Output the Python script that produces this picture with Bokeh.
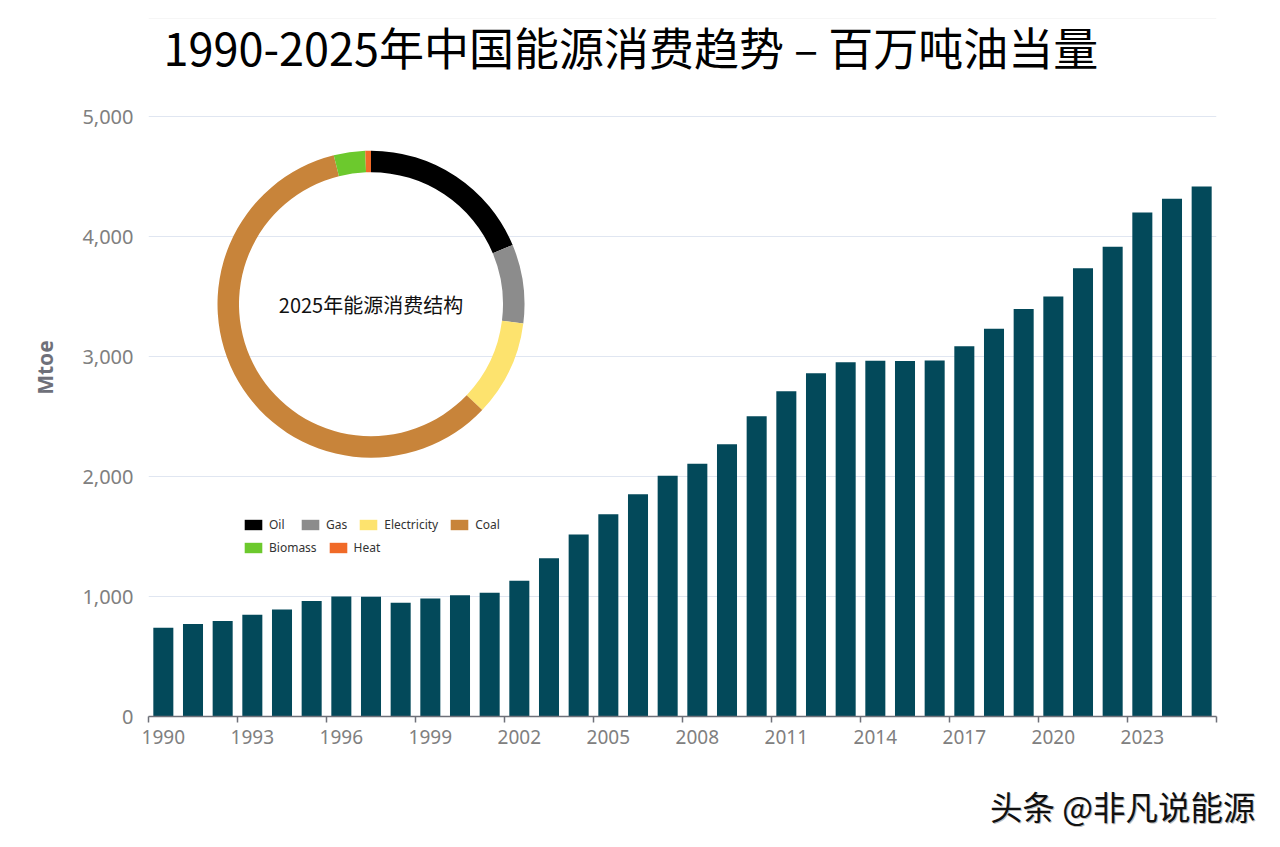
import math
from bokeh.plotting import figure
from bokeh.layouts import column
from bokeh.models import (Range1d, FixedTicker, NumeralTickFormatter, Label, Span,
                          Legend, LegendItem, ColumnDataSource)
from bokeh.embed import file_html
from bokeh.resources import INLINE

# ---------------- data ----------------
years = list(range(1990, 2026))
consumption = [740, 770, 795, 848, 892, 962, 1000, 998, 948, 983, 1011, 1031, 1132,
               1319, 1517, 1686, 1853, 2006, 2106, 2269, 2503, 2711, 2861, 2953,
               2964, 2962, 2967, 3086, 3231, 3397, 3500, 3736, 3914, 4200, 4314, 4417]
x_tick_labels = ["1990", "1993", "1996", "1999", "2002", "2005", "2008",
                 "2011", "2014", "2017", "2020", "2023"]
y_ticks = [0, 1000, 2000, 3000, 4000, 5000]

mix_labels = ["Oil", "Gas", "Electricity", "Coal", "Biomass", "Heat"]
mix_share = [18.7, 8.3, 10.1, 59.0, 3.3, 0.6]
mix_colors = ["#000000", "#8c8c8c", "#fde36e", "#c8843a", "#6cc92d", "#f06a28"]

title_text = "1990-2025年中国能源消费趋势 – 百万吨油当量"
donut_title = "2025年能源消费结构"
watermark = "头条 @非凡说能源"

BAR_COLOR = "#03495a"
AXIS_GRAY = "#6e7079"
Y_MAX = 5817

# ---------------- main figure ----------------
W, H_TOTAL = 1264, 831
ML, MR, MT, MB = 148, 48, 18, 42
H = 716 + MB
p = figure(width=W, height=H, output_backend="svg", toolbar_location=None,
           x_range=Range1d(1989.5, 2025.5), y_range=Range1d(0, Y_MAX),
           min_border_left=ML, min_border_right=MR, min_border_top=MT,
           min_border_bottom=MB)
p.frame_align = False
p.outline_line_color = None
p.background_fill_color = "white"
p.border_fill_color = "white"
p.xgrid.grid_line_color = None
p.ygrid.grid_line_color = "#e0e6f1"
p.ygrid.grid_line_width = 1

FB = H - MB  # frame bottom (canvas y)

# bars
src = ColumnDataSource(dict(year=years, value=consumption))
p.vbar(x="year", top="value", width=0.675, source=src, fill_color=BAR_COLOR,
       line_color=None)

# top faint line
p.add_layout(Span(location=Y_MAX, dimension="width", line_color="#eeeeee", line_width=1))

# x axis
xt = [int(t) for t in x_tick_labels]
minor = [xt[0] - 0.5 + 3 * k for k in range(len(xt) + 1)]
xa = p.xaxis[0]
xa.ticker = FixedTicker(ticks=xt, minor_ticks=minor)
xa.axis_line_color = AXIS_GRAY
xa.axis_line_width = 1.5
xa.major_tick_line_color = None
xa.minor_tick_line_color = AXIS_GRAY
xa.minor_tick_line_width = 1.5
xa.minor_tick_out = 6
xa.minor_tick_in = 0
xa.major_label_text_font = "Noto Sans"
xa.major_label_text_font_size = "19px"
xa.major_label_text_color = "#808080"
xa.major_label_standoff = 7

# y axis
ya = p.yaxis[0]
ya.ticker = FixedTicker(ticks=y_ticks)
ya.formatter = NumeralTickFormatter(format="0,0")
ya.axis_line_color = None
ya.major_tick_line_color = None
ya.minor_tick_line_color = None
ya.major_label_text_font = "Noto Sans"
ya.major_label_text_font_size = "20px"
ya.major_label_text_color = "#808080"
ya.major_label_standoff = 9
ya.axis_label = "Mtoe"
ya.axis_label_text_font = "Noto Sans"
ya.axis_label_text_font_style = "bold"
ya.axis_label_text_font_size = "21px"
ya.axis_label_text_color = AXIS_GRAY
ya.axis_label_standoff = 20

# title
p.add_layout(Label(x=163 - ML, y=FB - 46, x_units="screen", y_units="screen",
                   text=title_text, text_font="Noto Sans CJK SC", text_font_size="45px",
                   text_color="#000000", text_baseline="alphabetic", text_align="left"))

# donut
cx, cy = 370.5 - ML, FB - 303.7
total = sum(mix_share)
starts, ends, acc = [], [], 0.0
for v in mix_share:
    starts.append(math.pi / 2 - 2 * math.pi * acc / total)
    acc += v
    ends.append(math.pi / 2 - 2 * math.pi * acc / total)
p.extra_x_ranges = {"px": Range1d(0, W - ML - MR)}
p.extra_y_ranges = {"py": Range1d(0, H - MT - MB)}
dsrc = ColumnDataSource(dict(x=[cx] * len(mix_share), y=[cy] * len(mix_share),
                             start=starts, end=ends, color=mix_colors, label=mix_labels))
wr = p.annular_wedge(x="x", y="y", inner_radius=132, outer_radius=153.5,
                     inner_radius_units="screen", outer_radius_units="screen",
                     start_angle="start", end_angle="end", direction="clock",
                     fill_color="color", line_color=None, source=dsrc,
                     x_range_name="px", y_range_name="py")
p.add_layout(Label(x=cx, y=cy, x_units="screen", y_units="screen", text=donut_title,
                   text_font="Noto Sans CJK SC", text_font_size="20px",
                   text_color="#111111", text_align="center", text_baseline="middle"))

# legends
def make_legend(idxs, left, bottom):
    items = [LegendItem(label=mix_labels[i], renderers=[wr], index=i) for i in idxs]
    lg = Legend(items=items, orientation="horizontal", location=(left, FB - bottom),
                padding=0, margin=0, spacing=10, label_standoff=5,
                glyph_width=22, glyph_height=13, label_height=14,
                label_text_font="Noto Sans", label_text_font_size="12px",
                label_text_color="#333333", border_line_color=None,
                background_fill_alpha=0, label_text_baseline="middle")
    p.add_layout(lg, "center")

make_legend([0, 1, 2, 3], 242 - ML, 533)
make_legend([4, 5], 242 - ML, 556)

# ---------------- watermark strip ----------------
H2 = H_TOTAL - H
p2 = figure(width=W, height=H2, output_backend="svg", toolbar_location=None,
            x_range=Range1d(0, W), y_range=Range1d(0, H2),
            min_border=0, min_border_left=0, min_border_right=0,
            min_border_top=0, min_border_bottom=0)
p2.frame_align = False
p2.axis.visible = False
p2.grid.visible = False
p2.outline_line_color = None
p2.background_fill_color = "white"
p2.border_fill_color = "white"
wm_y = H2 - (805 - H)
p2.add_layout(Label(x=1255 + 1, y=wm_y - 1, x_units="screen", y_units="screen",
                    text=watermark, text_font="Noto Sans CJK SC", text_font_size="32.5px",
                    text_color="#bbbbbb", text_align="right", text_baseline="middle"))
p2.add_layout(Label(x=1255, y=wm_y, x_units="screen", y_units="screen",
                    text=watermark, text_font="Noto Sans CJK SC", text_font_size="32.5px",
                    text_color="#111111", text_align="right", text_baseline="middle"))

layout = column(p, p2, spacing=0)
open("out.html", "w").write(file_html(layout, INLINE))
